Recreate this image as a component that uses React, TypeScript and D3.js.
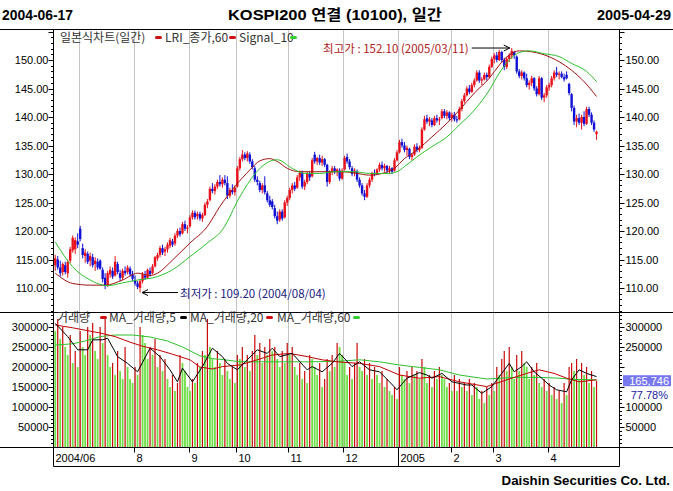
import React from "react";
import * as d3 from "d3";

const headerLeft = "2004-06-17";
const headerRight = "2005-04-29";
const headerTitle = "KOSPI200 연결 (10100), 일간";
const footer = "Daishin Securities Co. Ltd.";

// daily candles [open, high, low, close], 2004-06-17 .. 2005-04-29
const candles: number[][] = [
  [114.0,115.8,113.0,115.2],[115.0,115.6,113.2,113.6],[113.6,114.8,112.0,112.6],[112.8,114.5,112.2,114.2],[114.0,114.6,112.4,112.8],
  [112.6,115.0,111.8,114.6],[114.8,117.2,114.4,116.8],[116.6,119.2,116.2,118.8],[116.8,118.9,116.0,118.4],[118.2,119.6,117.0,117.6],
  // 10 July
  [120.4,120.9,118.2,118.6],[117.0,117.8,115.2,115.8],[115.6,116.8,114.4,116.2],[116.0,116.4,114.2,114.6],[114.8,116.2,113.8,115.6],
  [115.4,116.0,113.6,114.0],[114.2,115.4,113.0,114.8],[114.6,115.2,113.2,113.6],[114.8,115.0,113.2,113.4],[113.2,113.6,111.0,111.6],
  [111.8,112.6,109.8,110.4],[110.6,113.0,110.2,112.6],[112.4,113.8,111.8,113.2],[113.0,113.6,111.6,112.0],[112.2,115.6,112.0,114.6],
  [114.2,114.6,112.4,112.8],[112.6,113.2,111.2,111.8],[111.8,113.4,111.4,113.0],[113.0,113.8,112.2,112.6],[112.8,114.0,112.4,113.6],
  [113.4,113.8,112.0,112.4],[112.4,113.0,111.2,111.6],
  // 32 Aug
  [111.4,112.2,110.4,110.8],[110.8,111.2,109.8,110.2],[110.0,111.6,109.2,111.2],[111.2,112.8,110.8,112.4],[112.2,113.0,111.4,111.8],
  [111.8,113.4,111.6,113.2],[113.0,113.6,112.0,112.4],[112.6,114.2,112.4,113.8],[113.8,115.6,113.6,115.4],[115.2,116.2,114.8,115.8],
  [115.8,117.4,115.4,117.0],[117.0,117.6,115.8,116.2],[116.4,117.2,115.6,116.8],[116.8,118.0,116.2,117.6],[117.4,118.8,117.0,118.4],
  [118.2,118.6,117.2,117.6],[117.8,119.6,117.4,119.2],[119.2,120.4,118.8,120.0],[120.0,120.6,119.0,119.4],[119.6,121.6,119.4,121.2],
  [121.2,121.8,120.0,120.4],[120.4,121.0,119.6,120.6],
  // 54 Sep
  [120.8,122.8,120.6,122.4],[122.4,123.6,122.0,123.2],[123.2,123.6,122.0,122.4],[122.6,123.4,122.0,123.0],[123.0,123.4,121.8,122.2],
  [122.2,123.2,121.6,122.8],[122.8,125.0,122.6,124.6],[124.6,125.6,124.0,125.2],[125.4,127.8,125.2,127.4],[127.4,128.4,126.6,127.0],
  [127.0,128.2,126.4,127.8],[127.8,129.0,127.4,128.6],[128.6,129.8,127.8,128.2],[128.2,129.4,127.6,129.0],[129.0,129.8,128.0,128.4],
  [128.4,129.6,125.6,126.2],[126.2,127.6,125.8,127.2],[127.2,128.2,126.4,126.8],[126.8,128.0,126.2,127.6],
  // 73 Oct
  [127.8,131.4,127.6,131.0],[131.0,133.0,130.6,132.6],[132.6,134.2,132.2,133.4],[133.4,133.8,132.4,132.8],[132.8,134.0,132.2,133.6],
  [133.4,133.8,131.8,132.2],[132.2,132.6,130.8,131.2],[131.0,131.4,128.6,129.0],[129.0,129.6,128.0,128.6],[128.4,128.8,126.8,127.2],
  [127.2,128.4,126.6,128.0],[128.0,129.6,126.4,126.8],[126.6,127.0,125.0,125.4],[125.4,126.2,124.2,124.6],[125.2,125.6,123.8,124.2],
  [124.0,124.6,122.2,122.6],[122.6,123.4,121.2,121.8],[122.0,123.8,121.6,123.4],[123.4,123.8,121.8,122.2],[122.4,125.4,122.2,125.0],
  [125.0,126.2,124.4,125.8],
  // 94 Nov
  [125.8,127.6,125.4,127.2],[127.2,128.4,126.6,128.0],[128.0,128.6,127.0,127.4],[127.6,129.8,127.4,129.4],[129.4,130.6,128.8,130.2],
  [130.2,130.6,127.4,127.8],[127.8,129.0,127.2,128.6],[128.6,130.4,128.2,130.0],[130.0,130.4,128.8,129.4],[129.6,132.8,129.4,132.4],
  [133.4,133.9,131.8,132.2],[132.2,133.0,131.6,132.8],[132.8,133.4,131.6,132.0],[132.0,133.2,131.4,132.6],[132.6,132.8,131.2,131.6],
  [131.6,131.8,127.8,128.6],[128.6,130.6,128.2,130.4],[130.4,131.4,129.8,131.0],[131.0,131.4,130.0,130.4],[130.4,131.0,129.6,130.8],
  [130.6,131.0,128.8,129.2],[129.2,131.0,129.0,130.6],
  // 116 Dec
  [130.8,133.2,130.6,132.8],[133.0,133.6,131.8,132.2],[132.2,132.6,130.8,131.2],[131.0,131.4,129.6,130.0],[130.2,131.0,129.6,130.6],
  [130.4,130.8,128.6,129.0],[129.0,129.4,127.6,128.0],[128.0,128.4,126.2,126.6],[126.6,127.2,125.4,126.0],[126.0,128.4,125.8,128.0],
  [128.0,129.4,127.6,129.0],[129.0,130.4,128.6,130.2],[130.2,130.8,129.6,130.0],[130.0,131.0,129.8,130.8],[130.8,132.0,130.4,131.6],
  [131.6,132.2,130.6,131.0],[131.0,131.8,130.4,131.4],[131.4,131.6,130.2,130.6],[130.6,131.4,130.0,131.0],[131.0,131.2,130.0,130.4],
  [130.6,132.8,130.4,132.4],[132.4,134.2,132.2,133.8],
  // 138 Jan 2005
  [133.8,136.0,133.6,135.6],[135.6,136.2,134.6,135.0],[135.0,135.6,133.8,134.2],[134.2,135.0,133.2,134.6],[134.4,134.6,132.6,133.0],
  [133.0,133.6,132.4,133.4],[133.4,135.2,133.2,134.8],[134.8,135.4,133.8,134.2],[134.2,135.0,133.8,134.6],[134.6,138.2,134.4,137.8],
  [137.8,140.2,137.6,139.6],[139.8,140.4,138.8,139.2],[139.2,140.0,138.4,139.6],[139.4,139.8,138.2,138.6],[138.6,140.2,138.4,139.8],
  [139.8,140.4,139.0,139.4],[139.4,140.0,138.6,139.6],[139.8,141.4,139.6,141.0],[141.0,141.4,139.8,140.2],[140.2,141.2,139.6,140.8],
  [140.8,141.0,139.4,139.8],
  // 159 Feb
  [139.8,140.8,139.2,140.4],[140.4,140.9,139.2,139.6],[139.6,140.2,139.0,139.4],[139.6,141.8,139.4,141.4],[141.4,143.2,141.0,142.8],
  [142.8,144.2,142.4,143.8],[143.8,145.4,143.6,145.0],[145.0,145.6,144.0,144.4],[144.4,146.0,144.2,145.6],[145.6,146.8,145.2,146.4],
  [146.4,148.2,146.2,147.8],[147.8,148.2,146.0,146.4],[146.4,147.0,145.6,146.6],[146.6,147.8,146.4,147.4],[147.4,147.8,146.4,147.0],
  [147.0,149.2,146.8,148.8],[148.8,150.6,148.6,150.2],
  // 176 Mar
  [150.2,151.2,149.4,150.8],[150.8,151.4,149.6,150.0],[150.0,151.8,149.8,151.4],[151.4,151.6,149.6,150.0],[150.0,150.4,148.2,148.8],
  [148.8,150.6,148.4,150.2],[150.2,151.2,149.6,150.8],[150.8,152.1,150.2,151.6],[151.4,151.6,150.2,150.8],[150.6,150.8,147.6,148.0],
  [148.0,148.4,146.8,147.2],[147.2,148.2,146.6,147.8],[147.8,148.0,146.4,146.8],[146.8,147.6,145.2,145.6],[145.6,146.4,144.8,146.0],
  [146.0,147.2,145.4,146.8],[146.8,147.0,144.6,145.0],[145.0,145.4,143.6,144.0],[144.0,147.2,143.8,146.8],[146.8,147.0,143.0,143.4],
  [143.4,144.2,142.6,143.8],[143.8,145.6,143.4,145.2],
  // 198 Apr
  [145.2,146.0,144.6,145.6],[145.6,147.2,145.2,146.8],[146.8,148.2,146.4,147.8],[147.8,148.8,147.0,147.4],[147.4,148.0,146.6,147.6],
  [147.6,148.0,146.8,147.0],[147.0,147.6,146.2,146.6],[147.4,148.0,146.6,146.8],[145.8,146.0,143.8,144.2],[144.0,144.2,141.0,141.6],
  [141.6,142.0,138.6,139.2],[139.2,140.4,138.2,139.8],[139.8,140.6,138.6,139.0],[139.0,140.4,137.8,140.0],[140.0,141.0,138.4,138.8],
  [138.8,141.8,138.6,141.4],[141.4,141.8,140.0,140.4],[140.4,140.8,138.6,139.0],[139.0,139.4,137.4,137.8],[137.0,137.6,136.0,137.4],
];

// daily volume, thousand contracts
const volumes: number[] = [
  290,320,270,300,250,230,280,210,240,200,
  290,250,230,300,280,310,240,220,300,260,
  320,230,200,210,180,240,190,170,250,200,
  170,160,200,180,300,280,260,220,250,230,
  270,200,230,190,220,170,150,180,140,160,
  230,210,190,150,140,170,160,210,200,240,
  230,320,250,220,200,240,210,180,220,190,
  170,200,160,230,220,250,200,230,190,240,
  280,230,260,210,250,230,270,240,250,220,
  200,240,210,260,230,250,200,180,210,170,
  190,160,230,220,200,180,210,150,170,220,
  190,230,200,260,250,230,210,180,200,170,
  210,260,200,190,220,180,210,170,200,180,
  160,190,150,170,140,130,150,120,200,180,
  170,190,160,200,180,190,170,220,200,160,
  180,150,190,170,200,180,170,150,160,140,
  180,140,170,150,160,140,170,130,160,150,
  120,140,110,150,130,160,140,200,180,220,
  240,190,250,200,170,230,190,240,210,200,
  170,200,180,210,160,150,170,140,160,130,
  150,120,140,110,160,130,200,210,190,220,
  170,210,180,200,160,190,150,165.746,
];

const monthStarts = [
  { idx: 0, label: "2004/06" }, { idx: 10, label: "" }, { idx: 32, label: "8" }, { idx: 54, label: "9" },
  { idx: 73, label: "10" }, { idx: 94, label: "11" }, { idx: 116, label: "12" }, { idx: 138, label: "2005" },
  { idx: 159, label: "2" }, { idx: 176, label: "3" }, { idx: 198, label: "4" },
];

const priceTicks = [110, 115, 120, 125, 130, 135, 140, 145, 150];
const volumeTicks = [50000, 100000, 150000, 200000, 250000, 300000];

// LRI_종가,60 (day, value)
const lriLine = [
  [0,112.6],[7,110.8],[14,110.5],[20,110.5],[27,111.4],[33,112.6],[38,112.2],[41,112.6],[47,114.9],[54,117.9],
  [61,120.8],[66,124.3],[72,127.8],[78,130.7],[82,132.3],[86,132.7],[89,132.2],[93,131.0],[98,130.4],[103,130.4],
  [109,130.4],[115,130.4],[121,130.1],[126,129.8],[131,130.1],[136,131.0],[140,132.7],[145,134.2],[151,136.5],
  [157,138.9],[162,141.2],[168,144.2],[174,146.8],[178,149.1],[182,150.9],[186,151.6],[190,151.5],[196,150.9],
  [202,149.7],[207,148.2],[212,146.2],[217,143.6],
];
// Signal_10 (day, value)
const signalLine = [
  [0,118.1],[7,113.7],[14,111.4],[21,110.4],[27,110.9],[33,111.4],[41,112.0],[47,113.2],[54,115.5],[61,117.9],
  [67,120.2],[74,126.0],[80,130.0],[85,132.0],[89,132.5],[95,131.0],[100,130.1],[106,130.1],[112,130.4],[120,130.4],
  [126,130.1],[133,130.1],[137,130.4],[140,131.3],[145,133.0],[151,134.8],[157,136.5],[162,138.6],[168,141.2],
  [174,144.7],[178,147.7],[182,150.0],[186,151.3],[190,151.6],[196,151.1],[202,150.6],[207,149.4],[213,148.0],[217,146.2],
];

// volume moving averages (day, thousand)
const volMA5 = [
  [0,309],[5,276],[9,243],[13,243],[15,268],[19,268],[21,272],[25,226],[29,209],[33,188],[38,247],[42,226],[46,193],
  [49,163],[51,197],[55,163],[59,201],[63,247],[67,226],[69,209],[73,193],[77,218],[81,243],[85,234],[87,247],[90,226],
  [95,234],[101,193],[103,201],[107,188],[111,209],[114,234],[119,201],[122,213],[126,193],[130,188],[134,163],[137,143],
  [141,172],[146,186],[149,180],[151,172],[155,184],[159,163],[165,155],[167,155],[171,134],[175,151],[179,184],[182,209],
  [184,188],[187,201],[189,213],[192,188],[195,172],[198,155],[201,143],[205,138],[207,168],[210,193],[213,184],[217,176],
];
const volMA20 = [
  [0,305],[7,298],[12,292],[18,285],[24,276],[30,262],[35,252],[41,243],[47,232],[54,218],[58,200],[63,195],[67,201],
  [74,205],[81,218],[87,230],[94,234],[101,226],[107,218],[113,213],[122,209],[130,201],[138,180],[146,172],[154,176],
  [162,163],[173,151],[181,168],[189,184],[194,193],[200,184],[205,172],[210,163],[217,168],
];
const volMA60 = [
  [0,255],[7,258],[12,265],[18,276],[24,280],[31,280],[38,275],[45,265],[51,250],[58,228],[63,221],[68,218],[74,213],
  [87,213],[101,213],[113,214],[122,218],[130,213],[138,205],[146,199],[154,193],[162,180],[173,170],[184,174],
  [194,174],[202,172],[207,169],[217,168],
];

const lowDate = "2004/08/04";
const highDate = "2005/03/11";
const volRatio = "77.78%";

const UP = "#e8121c";
const DOWN = "#1212d4";
const AXIS_FONT = "'Liberation Sans', Arial, sans-serif";
const KR_FONT = "'Noto Sans CJK KR', 'Liberation Sans', sans-serif";
const NARROW = "'Liberation Sans Narrow', 'Liberation Sans', Arial, sans-serif";

export default function App() {
  const W = 673, H = 491;
  const L = 53.5, R = 619.5;
  const pTop = 29.5, pBot = 312.5, vBot = 447.5, aBot = 466.5;

  const x = d3.scaleLinear().domain([0, 226.5]).range([54, 619]);
  const yP = d3.scaleLinear().domain([110, 150]).range([288, 60]);
  const yV = d3.scaleLinear().domain([0, 300000]).range([447, 327]);

  const pLine = d3.line<number[]>().x((d) => x(d[0] + 0.5)).y((d) => yP(d[1])).curve(d3.curveMonotoneX);
  const vLine = d3.line<number[]>().x((d) => x(d[0] + 0.5)).y((d) => yV(d[1] * 1000)).curve(d3.curveLinear);

  let lowIdx = 0, highIdx = 0;
  candles.forEach((c, i) => {
    if (c[2] < candles[lowIdx][2]) lowIdx = i;
    if (c[1] > candles[highIdx][1]) highIdx = i;
  });
  const lowX = x(lowIdx + 0.5), lowY = yP(candles[lowIdx][2]);
  const highX = x(highIdx + 0.5), highY = yP(candles[highIdx][1]);

  const minorP = d3.range(106, 156).filter((v) => yP(v) > pTop + 1 && yP(v) < pBot - 1);
  const minorV = d3.range(0, 340000, 10000).filter((v) => yV(v) > pBot + 1 && yV(v) < vBot - 1);

  const lastVol = volumes[volumes.length - 1] * 1000;
  const volLabel = d3.format(",")(Math.round(lastVol));
  const boxY = yV(lastVol);

  const arrowHead = (tx: number, ty: number, dir: number) =>
    `M${tx + dir * 6},${ty - 3} L${tx},${ty} L${tx + dir * 6},${ty + 3}`;

  return (
    <svg width={W} height={H} style={{ position: "absolute", left: 0, top: 0, background: "#fff" }}
      xmlns="http://www.w3.org/2000/svg">
      <defs>
        <clipPath id="pclip"><rect x={L} y={pTop} width={R - L} height={pBot - pTop} /></clipPath>
        <clipPath id="vclip"><rect x={L} y={pBot} width={R - L} height={vBot - pBot} /></clipPath>
      </defs>
      <rect x={0} y={0} width={W} height={H} fill="#fff" />

      {/* header */}
      <text x={2} y={20} fontFamily={NARROW} fontWeight="bold" fontSize={15} textLength={71} lengthAdjust="spacingAndGlyphs">{headerLeft}</text>
      <text x={228} y={20} fontFamily={`${NARROW}, 'Noto Sans CJK KR'`} fontWeight="bold" fontSize={15} textLength={214} lengthAdjust="spacingAndGlyphs">{headerTitle}</text>
      <text x={597} y={20} fontFamily={NARROW} fontWeight="bold" fontSize={15} textLength={74} lengthAdjust="spacingAndGlyphs">{headerRight}</text>

      {/* month gridlines */}
      {monthStarts.filter((m) => m.idx > 0).map((m) => {
        const gx = Math.round(x(m.idx)) + 0.5;
        return (
          <g key={"g" + m.idx}>
            <line x1={gx} x2={gx} y1={pTop} y2={pBot} stroke="#c4c4c4" />
            <line x1={gx} x2={gx} y1={pBot} y2={vBot} stroke="#c4c4c4" />
          </g>
        );
      })}

      {/* frame */}
      <line x1={0} x2={W} y1={pTop} y2={pTop} stroke="#000" />
      <line x1={0} x2={W} y1={pBot} y2={pBot} stroke="#000" />
      <line x1={0} x2={W} y1={vBot} y2={vBot} stroke="#000" />
      <line x1={L} x2={R} y1={aBot} y2={aBot} stroke="#000" />
      <line x1={L} x2={L} y1={pTop} y2={aBot} stroke="#000" />
      <line x1={R} x2={R} y1={pTop} y2={aBot} stroke="#000" />

      {/* price axes */}
      {minorP.map((v) => {
        const yy = Math.round(yP(v)) + 0.5;
        const major = v % 5 === 0;
        return (
          <g key={"mp" + v}>
            <line x1={L - (major ? 5 : 2.5)} x2={L} y1={yy} y2={yy} stroke="#000" />
            <line x1={R} x2={R + (major ? 5 : 2.5)} y1={yy} y2={yy} stroke="#000" />
          </g>
        );
      })}
      {priceTicks.map((v) => (
        <g key={"pt" + v} fontFamily={AXIS_FONT} fontSize={11}>
          <text x={L - 5} y={yP(v) + 4} textAnchor="end">{v.toFixed(2)}</text>
          <text x={R + 6} y={yP(v) + 4}>{v.toFixed(2)}</text>
        </g>
      ))}

      {/* volume axes */}
      {minorV.map((v) => {
        const yy = Math.round(yV(v)) + 0.5;
        const major = v % 50000 === 0;
        return (
          <g key={"mv" + v}>
            <line x1={L - (major ? 5 : 2.5)} x2={L} y1={yy} y2={yy} stroke="#000" />
            <line x1={R} x2={R + (major ? 5 : 2.5)} y1={yy} y2={yy} stroke="#000" />
          </g>
        );
      })}
      {volumeTicks.map((v) => (
        <g key={"vt" + v} fontFamily={AXIS_FONT} fontSize={11}>
          <text x={L - 5} y={yV(v) + 4} textAnchor="end">{v}</text>
          {Math.abs(yV(v) - boxY) > 14 && <text x={R + 6} y={yV(v) + 4}>{v}</text>}
        </g>
      ))}

      {/* candles */}
      <g clipPath="url(#pclip)">
        {candles.map((c, i) => {
          const [o, h, l, cl] = c;
          const cx = x(i + 0.5);
          const col = cl >= o ? UP : DOWN;
          const top = yP(Math.max(o, cl));
          const bh = Math.max(1, Math.abs(yP(o) - yP(cl)));
          return (
            <g key={"c" + i}>
              <line x1={cx} x2={cx} y1={yP(h)} y2={yP(l)} stroke={col} strokeWidth={1} />
              <rect x={cx - 1.2} y={top} width={2.4} height={bh} fill={col} />
            </g>
          );
        })}
        <path d={pLine(lriLine) || ""} fill="none" stroke="#a01010" strokeWidth={1} />
        <path d={pLine(signalLine) || ""} fill="none" stroke="#2cc02c" strokeWidth={1} />
      </g>

      {/* volume bars */}
      <g clipPath="url(#vclip)">
        {volumes.map((v, i) => {
          const up = i > 0 && v >= volumes[i - 1];
          const cx = x(i + 0.5);
          const w = up ? 1.2 : 1.8;
          return (
            <rect key={"v" + i} x={cx - w / 2} y={yV(v * 1000)} width={w} height={447 - yV(v * 1000)}
              fill={up ? "#c80a0a" : "#6ede48"} />
          );
        })}
        <path d={vLine(volMA60) || ""} fill="none" stroke="#2cc02c" strokeWidth={1} />
        <path d={vLine(volMA20) || ""} fill="none" stroke="#c00000" strokeWidth={1} />
        <path d={vLine(volMA5) || ""} fill="none" stroke="#000" strokeWidth={1} />
      </g>

      {/* legends */}
      <g fontFamily={KR_FONT} fontSize={12} fill="#333">
        <text x={60} y={42}>일본식차트(일간)</text>
        <rect x={155} y={36} width={7} height={3} rx={1.5} fill="#d01010" />
        <text x={165} y={42}>LRI_종가,60</text>
        <rect x={229} y={36} width={7} height={3} rx={1.5} fill="#d01010" />
        <text x={239} y={42}>Signal_10</text>
        <rect x={290} y={36} width={7} height={3} rx={1.5} fill="#33cc33" />

        <text x={57} y={322}>거래량</text>
        <rect x={100} y={316} width={7} height={3} rx={1.5} fill="#d01010" />
        <text x={109} y={322}>MA_거래량,5</text>
        <rect x={180} y={316} width={7} height={3} rx={1.5} fill="#000" />
        <text x={190} y={322}>MA_거래량,20</text>
        <rect x={266} y={316} width={7} height={3} rx={1.5} fill="#d01010" />
        <text x={277} y={322}>MA_거래량,60</text>
        <rect x={353} y={316} width={7} height={3} rx={1.5} fill="#33cc33" />
      </g>

      {/* annotations */}
      <g fontFamily={KR_FONT} fontSize={11.5}>
        <path d={`M${lowX + 2},${lowY} L${lowX + 38},${lowY}`} stroke="#000" />
        <path d={arrowHead(lowX + 2, lowY, 1)} stroke="#000" fill="none" />
        <text x={lowX + 40} y={lowY + 5} fill="#202080">{`최저가 : ${candles[lowIdx][2].toFixed(2)} (${lowDate})`}</text>
        <path d={`M${highX - 40},${highY} L${highX - 2},${highY}`} stroke="#000" />
        <path d={arrowHead(highX - 2, highY, -1)} stroke="#000" fill="none" />
        <text x={highX - 43} y={highY + 5} textAnchor="end" fill="#b02020">{`최고가 : ${candles[highIdx][1].toFixed(2)} (${highDate})`}</text>
      </g>

      {/* current volume box */}
      <rect x={623} y={boxY - 5.5} width={48} height={11} fill="#7878ee" />
      <text x={669} y={boxY + 4} textAnchor="end" fontFamily={AXIS_FONT} fontSize={11} fill="#fff">{volLabel}</text>
      <text x={668} y={boxY + 18} textAnchor="end" fontFamily={AXIS_FONT} fontSize={11} fill="#2020a0">{volRatio}</text>

      {/* date axis */}
      {monthStarts.map((m) => {
        const gx = Math.round(x(m.idx)) + 0.5;
        const isYear = m.label === "2005";
        return (
          <g key={"d" + m.idx}>
            {m.idx > 0 && m.label !== "" && (
              <line x1={gx} x2={gx} y1={vBot} y2={isYear ? aBot : vBot + 5} stroke="#000" />
            )}
            {m.label && (
              <text x={m.idx === 0 ? L + 2 : gx + 2} y={462} fontFamily={AXIS_FONT} fontSize={11}>{m.label}</text>
            )}
          </g>
        );
      })}

      <text x={670} y={485} textAnchor="end" fontFamily={NARROW} fontWeight="bold" fontSize={13.3}>{footer}</text>
    </svg>
  );
}
